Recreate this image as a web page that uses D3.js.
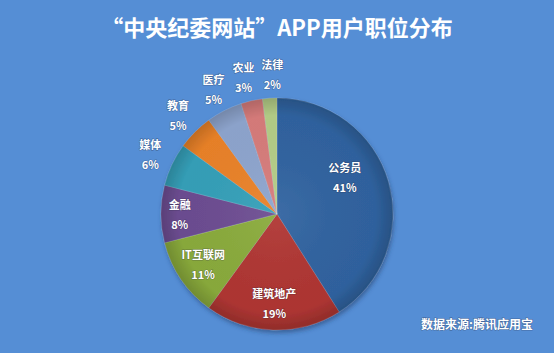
<!DOCTYPE html>
<html>
<head>
<meta charset="utf-8">
<script src="https://cdn.jsdelivr.net/npm/d3@7"></script>
<style>
  html, body { margin: 0; padding: 0; background: #558ed5; }
  svg { display: block; font-family: "Noto Sans CJK SC", "Noto Sans", sans-serif; }
  .lbl { fill: #fff; font-weight: bold; font-size: 11px; paint-order: stroke; stroke: rgba(40,40,60,0.35); stroke-width: 1.2px; }
</style>
</head>
<body>
<div id="chart"></div>
<script>
// data
var categories = ["公务员", "建筑地产", "IT互联网", "金融", "媒体", "教育", "医疗", "农业", "法律"];
var shares = [41, 19, 11, 8, 6, 5, 5, 3, 2];
var sliceColors = ["#3063a0", "#b03633", "#8aab3c", "#6d4d92", "#35a0b9", "#ea8229", "#8ea5ce", "#d77c7b", "#b4cd87"];
var title = "“中央纪委网站”APP用户职位分布";
var source = "数据来源:腾讯应用宝";

var svgWidth = 554, svgHeight = 353;
var cx = 277, cy = 214, radius = 116;

var svg = d3.select("#chart").append("svg")
  .attr("width", svgWidth)
  .attr("height", svgHeight);

svg.append("rect").attr("width", svgWidth).attr("height", svgHeight).attr("fill", "#558ed5");

// title
svg.append("text")
  .attr("x", cx).attr("y", 36)
  .attr("text-anchor", "middle")
  .attr("fill", "#fff")
  .attr("font-size", 22)
  .attr("font-weight", "bold")
  .text(title);

var defs = svg.append("defs");
// soft shadow under the pie
var shadow = defs.append("filter").attr("id", "shadow").attr("x", "-20%").attr("y", "-20%").attr("width", "140%").attr("height", "140%");
shadow.append("feDropShadow").attr("dx", 1).attr("dy", 3).attr("stdDeviation", 2).attr("flood-color", "#1a3560").attr("flood-opacity", 0.5);

// shading over the slices: light centre, darker rim
var shade = defs.append("radialGradient").attr("id", "shade")
  .attr("gradientUnits", "userSpaceOnUse")
  .attr("cx", 0).attr("cy", 0).attr("r", radius);
shade.append("stop").attr("offset", "0%").attr("stop-color", "#fff").attr("stop-opacity", 0.06);
shade.append("stop").attr("offset", "85%").attr("stop-color", "#000").attr("stop-opacity", 0.02);
shade.append("stop").attr("offset", "100%").attr("stop-color", "#000").attr("stop-opacity", 0.18);

var data = categories.map(function(c, i) {
  return { name: c, value: shares[i], color: sliceColors[i] };
});

var pie = d3.pie().sort(null).value(function(d) { return d.value; });
var arcs = pie(data);
var arc = d3.arc().innerRadius(0).outerRadius(radius);

var chartGroup = svg.append("g").attr("transform", "translate(" + cx + "," + cy + ")");

var pieGroup = chartGroup.append("g").attr("filter", "url(#shadow)");
pieGroup.selectAll("path.slice")
  .data(arcs)
  .enter()
  .append("path")
  .attr("class", "slice")
  .attr("d", arc)
  .attr("fill", function(d) { return d.data.color; })
  .attr("stroke", "rgba(255,255,255,0.25)")
  .attr("stroke-width", 0.6);

pieGroup.selectAll("path.shade")
  .data(arcs)
  .enter()
  .append("path")
  .attr("class", "shade")
  .attr("d", arc)
  .attr("fill", "url(#shade)");

// labels: big slices inside, small ones outside the rim
var nudge = { "公务员": [-18, -12], "金融": [-8, 0], "农业": [-3, 0], "法律": [4, 0] };
function labelPos(d) {
  var a = (d.startAngle + d.endAngle) / 2;
  var r = d.data.value >= 8 ? radius * 0.77 : radius + 24;
  var p = [r * Math.sin(a), -r * Math.cos(a)];
  var n = nudge[d.data.name] || [0, 0];
  return [p[0] + n[0], p[1] + n[1]];
}

var labels = chartGroup.selectAll("g.label")
  .data(arcs)
  .enter()
  .append("g")
  .attr("class", "label")
  .attr("transform", function(d) { return "translate(" + labelPos(d) + ")"; });

labels.append("text")
  .attr("class", "lbl")
  .attr("text-anchor", "middle")
  .attr("y", -5)
  .text(function(d) { return d.data.name; });

labels.append("text")
  .attr("class", "lbl")
  .attr("text-anchor", "middle")
  .attr("y", 15)
  .text(function(d) { return d.data.value + "%"; });

// source note
svg.append("text")
  .attr("x", 477).attr("y", 329)
  .attr("text-anchor", "middle")
  .attr("class", "lbl")
  .style("font-size", "12px")
  .text(source);
</script>
</body>
</html>
